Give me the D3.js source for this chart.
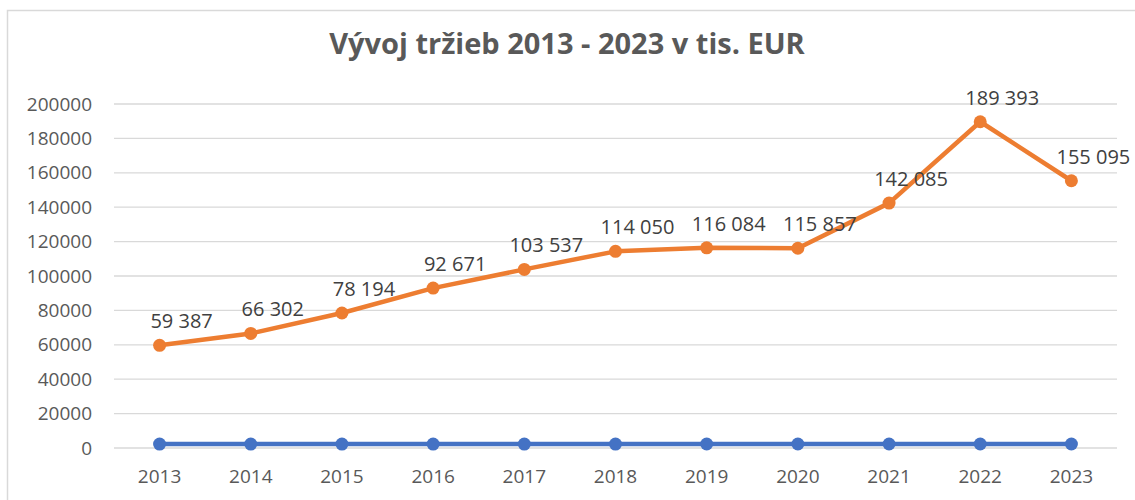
<!DOCTYPE html>
<html lang="sk">
<head>
<meta charset="utf-8">
<title>Vývoj tržieb</title>
<script src="https://d3js.org/d3.v7.min.js"></script>
<style>
  body { margin: 0; background: #fff; }
  svg { display: block; }
  .tick text { font-family: "Open Sans", sans-serif; fill: #595959; }
  .labels { font-family: "Open Sans", sans-serif; fill: #404040; font-size: 20px; }
  .title { font-family: "Open Sans", sans-serif; font-weight: bold; fill: #595959; }
</style>
</head>
<body>
<svg width="1135" height="500"></svg>
<script>
// chart values
const years = ["2013", "2014", "2015", "2016", "2017", "2018", "2019", "2020", "2021", "2022", "2023"];
const sales = [59387, 66302, 78194, 92671, 103537, 114050, 116084, 115857, 142085, 189393, 155095];
// the second series in the sheet is just the year column plotted as numbers
const yearSeries = [2013, 2014, 2015, 2016, 2017, 2018, 2019, 2020, 2021, 2022, 2023];
const yTicks = [0, 20000, 40000, 60000, 80000, 100000, 120000, 140000, 160000, 180000, 200000];

const svg = d3.select("svg");

// outer chart frame
svg.append("rect")
  .attr("x", 7.5).attr("y", 10.5)
  .attr("width", 1140).attr("height", 500)
  .attr("fill", "none")
  .attr("stroke", "#d9d9d9")
  .attr("stroke-width", 1.5);

svg.append("text")
  .attr("class", "title")
  .attr("x", 567).attr("y", 54)
  .attr("text-anchor", "middle")
  .style("font-size", "29px")
  .text("Vývoj tržieb 2013 - 2023 v tis. EUR");

const x = d3.scaleBand().domain(years).range([114, 1117]);
const y = d3.scaleLinear().domain([0, 200000]).range([447.5, 103.5]);

// y axis with gridlines
const yAxis = svg.append("g")
  .attr("transform", "translate(114,0)")
  .call(d3.axisLeft(y).tickValues(yTicks).tickFormat(d3.format("d")).tickSize(-(1117 - 114)).tickPadding(22));
yAxis.select(".domain").remove();
yAxis.selectAll(".tick line").attr("stroke", "#d9d9d9").attr("stroke-width", 1.3);
yAxis.selectAll(".tick text").style("font-size", "19px").attr("dy", "0.35em");

// x axis labels
const xAxis = svg.append("g")
  .attr("transform", "translate(0,447.5)")
  .call(d3.axisBottom(x).tickSize(0).tickPadding(22));
xAxis.select(".domain").remove();
xAxis.selectAll(".tick text").style("font-size", "19px");

const cx = d => x(d) + x.bandwidth() / 2;

const line = d3.line()
  .x((d, i) => cx(years[i]))
  .y(d => y(d));

// blue series
svg.append("path")
  .datum(yearSeries)
  .attr("fill", "none")
  .attr("stroke", "#4472c4")
  .attr("stroke-width", 4.5)
  .attr("stroke-linejoin", "round")
  .attr("d", line);
svg.selectAll("circle.blue")
  .data(yearSeries)
  .enter()
  .append("circle")
  .attr("class", "blue")
  .attr("cx", (d, i) => cx(years[i]))
  .attr("cy", d => y(d))
  .attr("r", 6.5)
  .attr("fill", "#4472c4");

// orange series
svg.append("path")
  .datum(sales)
  .attr("fill", "none")
  .attr("stroke", "#ed7d31")
  .attr("stroke-width", 4.5)
  .attr("stroke-linejoin", "round")
  .attr("d", line);
svg.selectAll("circle.orange")
  .data(sales)
  .enter()
  .append("circle")
  .attr("class", "orange")
  .attr("cx", (d, i) => cx(years[i]))
  .attr("cy", d => y(d))
  .attr("r", 6.5)
  .attr("fill", "#ed7d31");

const fmt = d3.formatLocale({ decimal: ",", thousands: " ", grouping: [3], currency: ["", " €"] }).format(",d");

svg.selectAll("text.labels")
  .data(sales)
  .enter()
  .append("text")
  .attr("class", "labels")
  .attr("x", (d, i) => cx(years[i]) + 22)
  .attr("y", d => y(d) - 17)
  .attr("text-anchor", "middle")
  .text(d => fmt(d));
</script>
</body>
</html>
